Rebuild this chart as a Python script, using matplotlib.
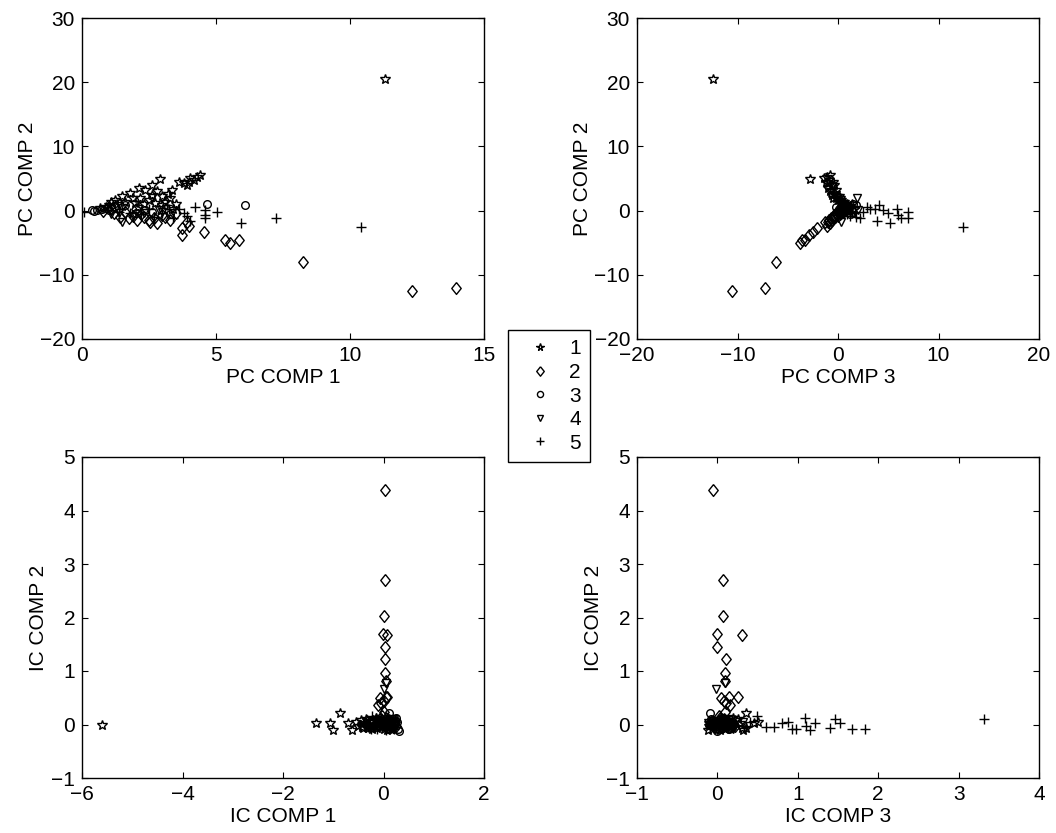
import matplotlib
matplotlib.use("Agg")
import matplotlib.pyplot as plt

plt.rcParams['font.family'] = ['Liberation Sans', 'DejaVu Sans']
plt.rcParams['font.size'] = 15

# ---------------- data ----------------
labels = ['1', '2', '3', '4', '5']

# class 1 (stars)
s_pc1 = [11.3, 2.92, 3.61, 3.79, 3.92, 4.04, 4.17, 4.29, 4.41, 3.98, 2.61, 3.36, 2.36, 2.11, 1.80, 1.49, 1.24, 2.99, 3.29, 3.11,
         2.18, 2.49, 2.74, 1.99, 1.62, 1.0, 0.68, 2.99, 1.3, 1.1, 2.3, 1.9, 2.6, 3.2, 2.8, 0.9, 1.5, 3.5, 3.4, 2.1]
s_pc2 = [20.5, 5.0, 4.5, 4.26, 4.0, 5.04, 4.77, 5.29, 5.55, 4.51, 4.0, 3.2, 3.2, 3.48, 2.7, 2.28, 1.66, 2.28, 1.92, 1.4,
         1.92, 1.66, 1.15, 1.24, 1.4, 0.89, 0.37, 0.89, 1.0, 1.3, 1.0, 2.0, 2.5, 2.6, 3.1, 0.6, 0.7, 1.0, 0.2, 0.5]
s_pc3 = [-12.4, -2.8, -1.2, -1.0, -0.6, -1.4, -0.9, -1.1, -0.8, -0.5, -0.4, -0.2, -0.7, -1.0, -0.3, 0.1, 0.3, -0.1, 0.2, 0.6,
         -0.5, 0.0, 0.4, 0.5, 0.2, 0.7, 0.9, 0.8, 0.5, 0.3, 0.9, -0.2, -0.6, -0.4, -0.8, 1.0, 1.2, 1.4, 1.6, 1.1]
s_ic1 = [-5.6, -1.35, -1.06, -1.0, -0.87, -0.7, -0.63, -0.55, -0.5, -0.45, -0.42, -0.38, -0.35, -0.3, -0.28, -0.25, -0.22,
         -0.2, -0.18, -0.15, -0.12, -0.1, -0.08, -0.05, -0.03, 0.0, 0.02, 0.05, 0.08, 0.1, 0.12, 0.15, 0.18, 0.2, 0.22,
         -0.4, -0.32, -0.26, -0.14, 0.06]
s_ic2 = [0.0, 0.02, 0.03, -0.1, 0.21, 0.02, -0.1, 0.05, -0.02, 0.08, -0.05, 0.03, 0.1, -0.06, 0.0, 0.06, -0.08, 0.04, -0.03,
         0.1, -0.07, 0.02, 0.07, -0.04, 0.05, -0.09, 0.01, 0.08, -0.05, 0.03, -0.02, 0.06, -0.08, 0.02, 0.05, -0.06, 0.09,
         -0.03, 0.12, -0.1]
s_ic3 = [-0.05, -0.1, -0.08, -0.12, 0.36, 0.45, 0.32, -0.05, 0.0, 0.05, 0.1, -0.03, 0.08, 0.15, 0.2, 0.12, -0.07, 0.02,
         0.18, 0.25, 0.3, 0.06, -0.1, 0.04, 0.14, 0.09, -0.02, 0.22, 0.11, 0.16, -0.04, 0.07, 0.01, 0.28, 0.5, 0.35, 0.13,
         -0.11, 0.19, 0.03]

# class 2 (diamonds)
d_pc1 = [13.94, 12.32, 8.26, 5.87, 5.53, 5.35, 4.54, 3.73, 3.73, 2.99, 2.67, 2.55, 2.49, 2.05, 1.74, 1.43, 3.3, 3.1, 2.2,
         1.9, 1.6, 2.8, 4.0, 3.5, 1.2, 2.3, 0.8, 3.9, 2.0, 1.1]
d_pc2 = [-11.98, -12.49, -8.03, -4.56, -4.97, -4.56, -3.26, -3.78, -2.74, -0.67, -1.19, -1.71, -1.45, -1.45, -1.19, -0.93,
         -1.5, -1.0, -0.5, -0.8, -0.2, -2.0, -2.4, -0.3, -0.4, -1.0, -0.1, -1.7, 0.2, 0.3]
d_pc3 = [-7.26, -10.58, -6.2, -3.6, -3.78, -3.3, -2.5, -2.9, -2.1, -0.4, -0.7, -1.0, -0.85, -0.6, -0.5, -0.3, -0.9, -0.5,
         -0.2, 0.0, 0.1, -0.8, -1.1, 0.2, 0.3, -0.3, 0.5, -1.3, 0.4, 0.6]
d_ic1 = [0.03, 0.02, 0.0, -0.01, 0.07, 0.02, 0.02, 0.03, 0.05, -0.07, 0.04, -0.04, -0.1, 0.0, 0.06, 0.01, -0.02, 0.1, 0.15,
         0.2, -0.15, 0.08, -0.05, 0.25, 0.12, -0.2, 0.18, 0.05, -0.1, 0.22]
d_ic2 = [4.38, 2.7, 2.02, 1.7, 1.68, 1.45, 1.22, 0.97, 0.82, 0.49, 0.52, 0.40, 0.36, 0.24, 0.52, 0.43, 0.15, 0.08, 0.05,
         0.0, 0.03, -0.05, 0.1, -0.02, 0.02, 0.06, -0.04, 0.12, 0.0, 0.04]
d_ic3 = [-0.05, 0.07, 0.07, 0.0, 0.3, 0.0, 0.11, 0.1, 0.1, 0.05, 0.25, 0.11, 0.16, 0.1, 0.14, 0.08, 0.02, 0.05, -0.05,
         0.12, 0.18, 0.0, 0.08, 0.22, -0.02, 0.1, 0.15, 0.03, 0.2, -0.08]

# class 3 (circles)
c_pc1 = [0.37, 0.56, 0.75, 0.93, 1.0, 4.66, 6.09, 2.36, 2.61, 2.0, 1.2, 3.3, 0.45, 1.6]
c_pc2 = [0.1, 0.1, 0.2, 0.37, 0.1, 1.1, 0.85, 0.1, -0.16, -0.3, 0.5, -0.5, 0.0, 0.9]
c_pc3 = [0.2, 0.4, 0.1, 0.6, 0.3, 1.5, 1.8, 0.8, 1.0, 0.5, -0.2, 1.2, 0.0, 0.7]
c_ic1 = [0.10, 0.31, 0.26, 0.2, 0.15, 0.22, 0.05, 0.28, -0.05, 0.18, 0.12, 0.24, 0.0, 0.08]
c_ic2 = [0.21, -0.12, 0.05, 0.0, -0.05, 0.08, 0.1, -0.08, 0.02, 0.04, -0.03, 0.12, 0.0, -0.06]
c_ic3 = [-0.09, 0.0, 0.05, -0.05, 0.1, 0.02, -0.08, 0.15, 0.08, -0.02, 0.12, 0.04, -0.1, 0.06]

# class 4 (triangles)
t_pc1 = [1.49, 2.3, 1.37, 2.86, 1.9, 2.6, 3.0, 1.1]
t_pc2 = [-1.71, -0.41, -0.31, 0.1, -0.9, 1.9, -0.2, -0.5]
t_pc3 = [0.3, 0.5, 0.0, 2.0, 0.2, 1.9, 0.8, -0.1]
t_ic1 = [0.05, 0.0, 0.1, -0.05, 0.15, 0.2, -0.1, 0.08]
t_ic2 = [0.78, 0.66, 0.05, 0.0, -0.05, 0.1, 0.02, -0.08]
t_ic3 = [0.1, -0.02, 0.32, 0.05, -0.05, 0.15, 0.0, 0.2]

# class 5 (pluses)
p_pc1 = [3.23, 3.61, 3.79, 4.04, 4.6, 4.6, 4.6, 5.04, 5.94, 7.25, 10.41, 0.06, 1.37, 2.99, 3.17, 2.2, 1.8, 2.7, 3.4, 2.5,
         4.2, 3.9]
p_pc2 = [0.22, 0.22, -0.41, -1.6, 0.1, -0.67, -1.19, -0.25, -1.97, -1.19, -2.49, -0.16, -0.16, -0.41, 0.89, -0.6, -0.3,
         -1.0, -1.2, 0.3, 0.5, -0.8]
p_pc3 = [3.18, 3.68, 5.01, 3.85, 4.51, 6.0, 7.0, 7.0, 5.17, 6.3, 12.4, 1.69, 2.52, 1.36, 4.11, 0.9, 0.6, 1.8, 2.2, 5.84,
         2.9, 1.2]
p_ic1 = [-0.3, -0.2, -0.1, 0.0, 0.1, -0.25, -0.15, 0.05, -0.35, 0.15, -0.05, -0.4, 0.2, -0.12, 0.08, -0.22, 0.02, -0.08,
         0.12, -0.18, -0.28, 0.0]
p_ic2 = [-0.04, -0.04, 0.03, 0.05, -0.09, -0.09, 0.12, -0.1, 0.02, -0.07, 0.1, 0.03, -0.09, -0.09, 0.1, 0.16, 0.0, -0.05,
         0.06, 0.02, -0.03, 0.04]
p_ic3 = [0.61, 0.70, 0.80, 0.88, 0.93, 0.98, 1.09, 1.15, 1.21, 1.40, 1.46, 1.52, 1.67, 1.84, 3.32, 0.49, 0.2, 0.35, 0.1,
         0.05, 1.1, 0.4]

classes = [
    dict(pc1=s_pc1, pc2=s_pc2, pc3=s_pc3, ic1=s_ic1, ic2=s_ic2, ic3=s_ic3),
    dict(pc1=d_pc1, pc2=d_pc2, pc3=d_pc3, ic1=d_ic1, ic2=d_ic2, ic3=d_ic3),
    dict(pc1=c_pc1, pc2=c_pc2, pc3=c_pc3, ic1=c_ic1, ic2=c_ic2, ic3=c_ic3),
    dict(pc1=t_pc1, pc2=t_pc2, pc3=t_pc3, ic1=t_ic1, ic2=t_ic2, ic3=t_ic3),
    dict(pc1=p_pc1, pc2=p_pc2, pc3=p_pc3, ic1=p_ic1, ic2=p_ic2, ic3=p_ic3),
]
diamond = [(0, 1), (0.8, 0), (0, -1), (-0.8, 0), (0, 1)]
markers = ['*', diamond, 'o', 'v', '+']
msizes = [7, 8.5, 5.5, 6, 6.5]

# ---------------- figure ----------------
W, H = 1056, 833
fig = plt.figure(figsize=(W / 100, H / 100), dpi=100)


def px_axes(x0, y0, x1, y1):
    return fig.add_axes([x0 / W, 1 - y1 / H, (x1 - x0) / W, (y1 - y0) / H])


ax_tl = px_axes(82, 18, 484, 339)
ax_tr = px_axes(637, 18, 1039, 339)
ax_bl = px_axes(82, 457, 484, 778)
ax_br = px_axes(637, 457, 1039, 778)

panels = [
    (ax_tl, 'pc1', 'pc2', 'PC COMP 1', 'PC COMP 2', (0, 15), (-20, 30), [0, 5, 10, 15], [-20, -10, 0, 10, 20, 30]),
    (ax_tr, 'pc3', 'pc2', 'PC COMP 3', 'PC COMP 2', (-20, 20), (-20, 30), [-20, -10, 0, 10, 20], [-20, -10, 0, 10, 20, 30]),
    (ax_bl, 'ic1', 'ic2', 'IC COMP 1', 'IC COMP 2', (-6, 2), (-1, 5), [-6, -4, -2, 0, 2], [-1, 0, 1, 2, 3, 4, 5]),
    (ax_br, 'ic3', 'ic2', 'IC COMP 3', 'IC COMP 2', (-1, 4), (-1, 5), [-1, 0, 1, 2, 3, 4], [-1, 0, 1, 2, 3, 4, 5]),
]

handles = []
for ax, kx, ky, xl, yl, xlim, ylim, xt, yt in panels:
    hs = []
    for cls, m, ms, lab in zip(classes, markers, msizes, labels):
        h, = ax.plot(cls[kx], cls[ky], linestyle='none', marker=m, markersize=ms,
                     markerfacecolor='none', markeredgecolor='black', markeredgewidth=1.0, label=lab)
        hs.append(h)
    if not handles:
        handles = hs
    ax.set_xlim(*xlim)
    ax.set_ylim(*ylim)
    ax.set_xticks(xt)
    ax.set_yticks(yt)
    ax.set_xlabel(xl, labelpad=2)
    ax.set_ylabel(yl, labelpad=2)
    ax.tick_params(direction='in', top=True, right=True, length=4, width=0.8, labelsize=15, pad=5)
    for sp in ax.spines.values():
        sp.set_linewidth(1.0)

leg = fig.legend(handles=handles, labels=labels, loc='upper left',
                 bbox_to_anchor=(508 / W, 1 - 330 / H), frameon=True, fancybox=False,
                 edgecolor='black', framealpha=1, fontsize=15, handlelength=2.2,
                 handletextpad=0.3, labelspacing=0.22, borderpad=0.45, borderaxespad=0, markerscale=0.8)
leg.get_frame().set_linewidth(1.0)

fig.savefig('out.png', dpi=100)
